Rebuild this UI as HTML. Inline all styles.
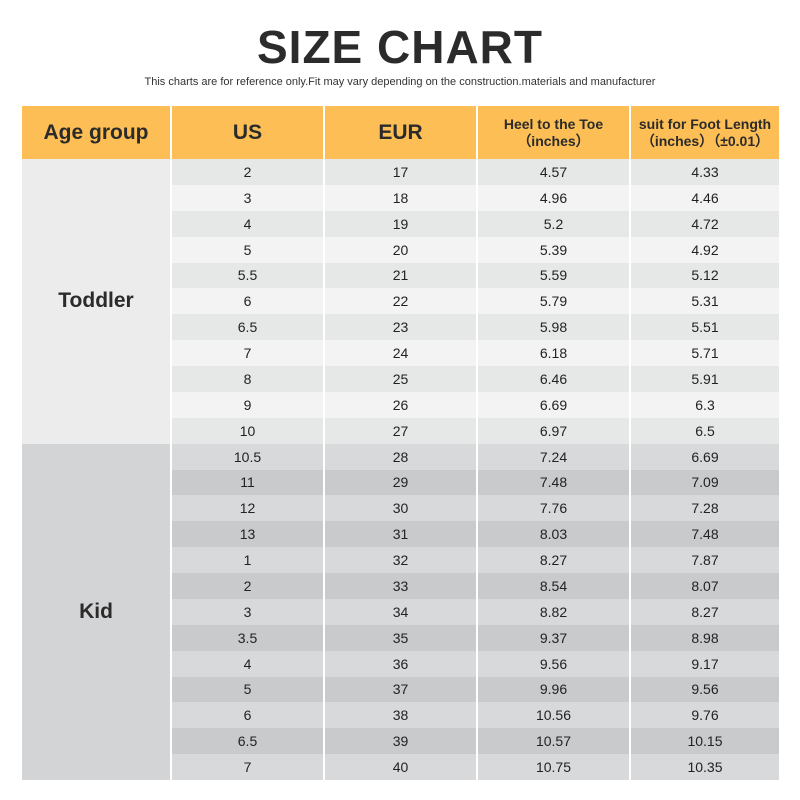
<!DOCTYPE html>
<html><head><style>
body{margin:0;width:800px;height:800px;background:#fff;font-family:"Liberation Sans",sans-serif;position:relative;overflow:hidden}
h1{position:absolute;top:20px;left:0;width:800px;margin:0;text-align:center;font-size:46px;font-weight:bold;color:#2b2b2b;letter-spacing:1px}
.sub{position:absolute;top:76px;left:0;width:800px;text-align:center;font-size:11px;color:#333}
table{position:absolute;left:20px;top:106px;width:759px;border-collapse:collapse;table-layout:fixed}
td{border-left:2px solid #fff;border-right:2px solid #fff;text-align:center;padding:0;font-size:14px;color:#222;height:25.875px}
th{background:#fdbf55;height:53px;border-left:2px solid #fff;border-right:2px solid #fff;font-size:21px;color:#2b2b2b;font-weight:bold;padding:0}
th.s{font-size:14px;line-height:17px}
.t1 td{background:#e6e7e7}.t2 td{background:#f3f3f3}
.k1 td{background:#d8d9da}.k2 td{background:#c9cacb}
td.ag{font-size:21px;font-weight:bold;color:#2b2b2b}
tr td.tg{background:#ececec}tr td.kg{background:#d3d4d5}
</style></head><body>
<h1>SIZE CHART</h1>
<div class="sub">This charts are for reference only.Fit may vary depending on the construction.materials and manufacturer</div>
<table>
<colgroup><col style="width:150px"><col style="width:153px"><col style="width:153px"><col style="width:153px"><col style="width:150px"></colgroup>
<tr><th>Age group</th><th>US</th><th>EUR</th><th class="s">Heel to the Toe<br>（inches）</th><th class="s">suit for Foot Length<br>（inches）（±0.01）</th></tr>
<tr class="t1"><td class="ag tg" rowspan="11">Toddler</td><td>2</td><td>17</td><td>4.57</td><td>4.33</td></tr>
<tr class="t2"><td>3</td><td>18</td><td>4.96</td><td>4.46</td></tr>
<tr class="t1"><td>4</td><td>19</td><td>5.2</td><td>4.72</td></tr>
<tr class="t2"><td>5</td><td>20</td><td>5.39</td><td>4.92</td></tr>
<tr class="t1"><td>5.5</td><td>21</td><td>5.59</td><td>5.12</td></tr>
<tr class="t2"><td>6</td><td>22</td><td>5.79</td><td>5.31</td></tr>
<tr class="t1"><td>6.5</td><td>23</td><td>5.98</td><td>5.51</td></tr>
<tr class="t2"><td>7</td><td>24</td><td>6.18</td><td>5.71</td></tr>
<tr class="t1"><td>8</td><td>25</td><td>6.46</td><td>5.91</td></tr>
<tr class="t2"><td>9</td><td>26</td><td>6.69</td><td>6.3</td></tr>
<tr class="t1"><td>10</td><td>27</td><td>6.97</td><td>6.5</td></tr>
<tr class="k1"><td class="ag kg" rowspan="13">Kid</td><td>10.5</td><td>28</td><td>7.24</td><td>6.69</td></tr>
<tr class="k2"><td>11</td><td>29</td><td>7.48</td><td>7.09</td></tr>
<tr class="k1"><td>12</td><td>30</td><td>7.76</td><td>7.28</td></tr>
<tr class="k2"><td>13</td><td>31</td><td>8.03</td><td>7.48</td></tr>
<tr class="k1"><td>1</td><td>32</td><td>8.27</td><td>7.87</td></tr>
<tr class="k2"><td>2</td><td>33</td><td>8.54</td><td>8.07</td></tr>
<tr class="k1"><td>3</td><td>34</td><td>8.82</td><td>8.27</td></tr>
<tr class="k2"><td>3.5</td><td>35</td><td>9.37</td><td>8.98</td></tr>
<tr class="k1"><td>4</td><td>36</td><td>9.56</td><td>9.17</td></tr>
<tr class="k2"><td>5</td><td>37</td><td>9.96</td><td>9.56</td></tr>
<tr class="k1"><td>6</td><td>38</td><td>10.56</td><td>9.76</td></tr>
<tr class="k2"><td>6.5</td><td>39</td><td>10.57</td><td>10.15</td></tr>
<tr class="k1"><td>7</td><td>40</td><td>10.75</td><td>10.35</td></tr>
</table>
</body></html>
